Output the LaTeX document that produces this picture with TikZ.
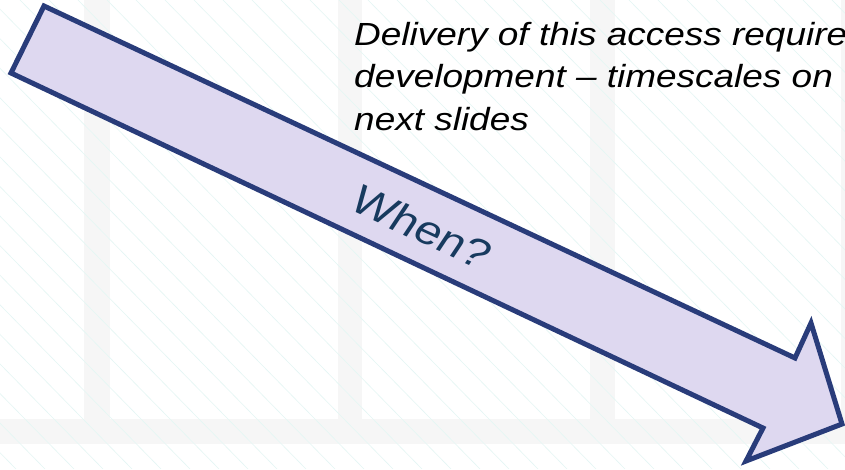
\documentclass[tikz,border=0pt]{standalone}
\usepackage{fontspec}
\setmainfont{Liberation Sans}
\definecolor{bargrey}{RGB}{246,246,246}
\definecolor{diagcyan}{RGB}{228,246,244}
\definecolor{arrowfill}{RGB}{222,216,240}
\definecolor{arrowline}{RGB}{41,60,122}
\definecolor{whentext}{RGB}{23,58,94}
\tikzset{
  bar/.style={fill=bargrey},
  diag/.style={draw=diagcyan, line width=0.6pt},
  bigarrow/.style={fill=arrowfill, draw=arrowline, line width=5pt, line join=miter},
  whenlabel/.style={text=whentext, font=\fontsize{40}{44}\selectfont, inner sep=0pt},
  notelabel/.style={text=black, font=\itshape\fontsize{32}{42.5}\selectfont, align=left, inner sep=0pt}
}
\begin{document}
\begin{tikzpicture}[x=1pt,y=-1pt]
\useasboundingbox (0,0) rectangle (845,469);
\clip (0,0) rectangle (845,469);
\fill[white] (0,0) rectangle (845,469);
% background bars
\fill[bar] (84,0) rectangle (110,419);
\fill[bar] (338,0) rectangle (362,419);
\fill[bar] (590,0) rectangle (615,419);
\fill[bar] (841,0) rectangle (845,419);
\fill[bar] (0,419) rectangle (845,444);
% faint diagonal lines
\foreach \i in {-560,-531,...,900} {
  \draw[diag] (\i,0) -- ++(460,469);
}
% arrow
\draw[bigarrow] (44,6) -- (795,358) -- (811,323) -- (842,424) -- (746,461) -- (763,428) -- (11,73) -- cycle;
% labels
\node[whenlabel, xscale=1.2, rotate=-29] (when) at (422,227) {When?};
\node[notelabel, xscale=1.155, anchor=north west] (note) at (354,22)
  {Delivery of this access require\\development -- timescales on\\next slides};
\end{tikzpicture}
\end{document}
